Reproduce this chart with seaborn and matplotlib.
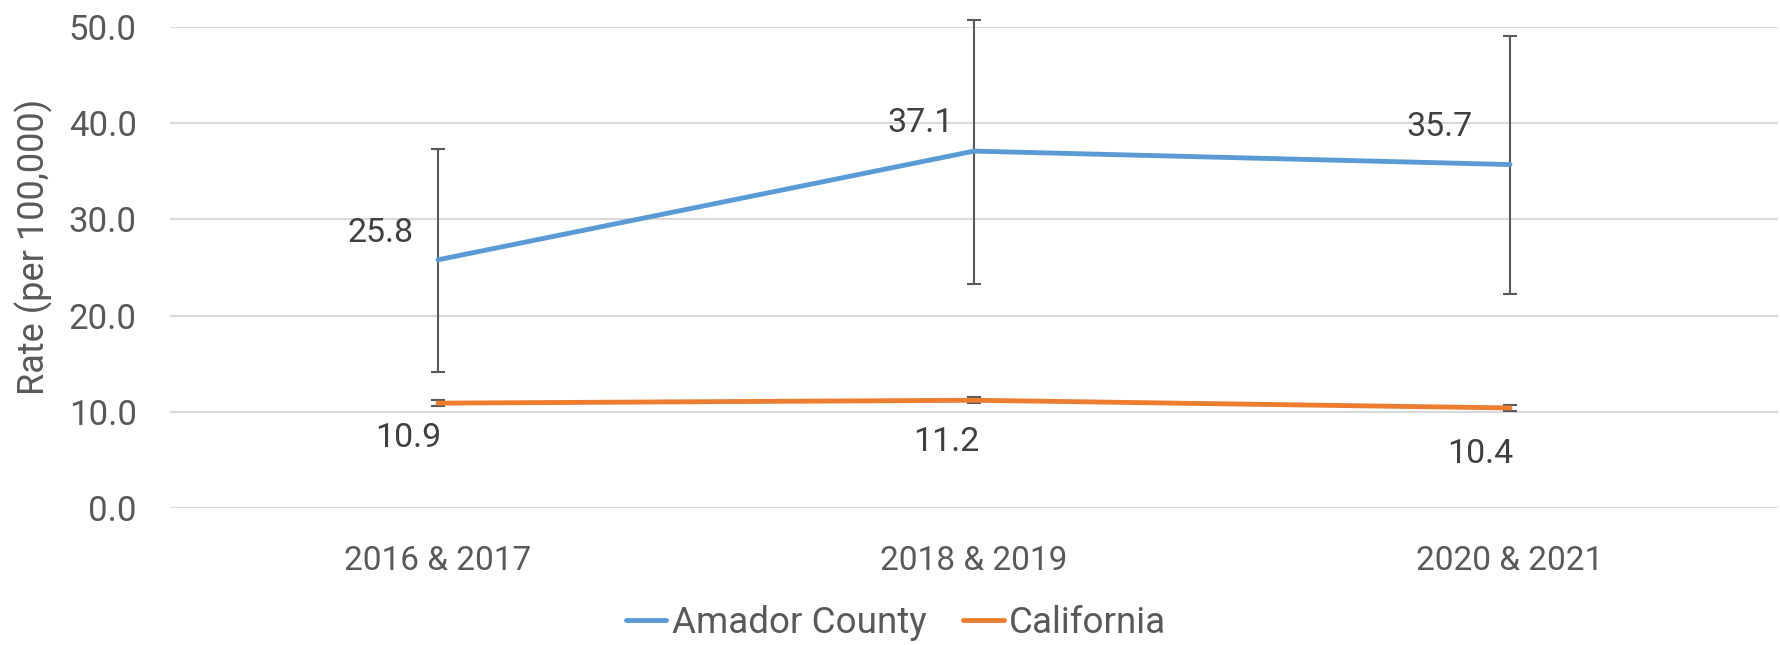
import matplotlib
matplotlib.use("Agg")
import matplotlib.pyplot as plt
import seaborn as sns
import pandas as pd
import numpy as np

periods = ["2016 & 2017", "2018 & 2019", "2020 & 2021"]
amador = [25.8, 37.1, 35.7]
amador_low = [14.1, 23.3, 22.2]
amador_high = [37.3, 50.7, 49.1]
california = [10.9, 11.2, 10.4]
california_low = [10.6, 10.9, 10.1]
california_high = [11.2, 11.5, 10.7]
series_names = ["Amador County", "California"]
y_ticks = [0, 10, 20, 30, 40, 50]

sns.set_theme(style="white")
plt.rcParams['font.family'] = ['Roboto', 'DejaVu Sans']

TXT = "#595959"
BLUE = "#5B9BD5"
ORANGE = "#ED7D31"

df = pd.DataFrame({
    "period": periods * 2,
    "rate": amador + california,
    "series": [series_names[0]] * 3 + [series_names[1]] * 3,
})

fig = plt.figure(figsize=(17.81, 6.45), dpi=100)
ax = fig.add_axes([170 / 1781, 1 - 508 / 645, (1778 - 170) / 1781, (508 - 27) / 645])

for y in y_ticks:
    ax.axhline(y, color="#D9D9D9", lw=1.5, zorder=0)

sns.lineplot(data=df, x="period", y="rate", hue="series", palette=[BLUE, ORANGE],
             lw=3.5, ax=ax, sort=False, legend=True, zorder=3)

xpos = np.arange(len(periods))
for vals, lo, hi in [(amador, amador_low, amador_high),
                     (california, california_low, california_high)]:
    v = np.array(vals)
    yerr = np.vstack([v - np.array(lo), np.array(hi) - v])
    ax.errorbar(xpos, v, yerr=yerr, fmt="none", ecolor=TXT, elinewidth=1.5,
                capsize=5, capthick=1.5, zorder=2, clip_on=False)

# data labels (pixel offsets relative to point: right-edge x, center y)
amador_off = [(-24, 27), (-20, 28), (-37, 38)]
cal_off = [(3, -35), (5, -42), (3, -46)]
for i in range(3):
    ax.annotate(f"{amador[i]:.1f}", (xpos[i], amador[i]), xytext=amador_off[i],
                textcoords="offset pixels", ha="right", va="center",
                fontsize=24.5, color="#404040")
    ax.annotate(f"{california[i]:.1f}", (xpos[i], california[i]), xytext=cal_off[i],
                textcoords="offset pixels", ha="right", va="center",
                fontsize=24.5, color="#404040")

ax.set_xlim(-0.5, 2.5)
ax.set_ylim(0, 50)
ax.set_yticks(y_ticks)
ax.set_yticklabels([f"{t:.1f}" for t in y_ticks])
ax.set_xticks(xpos)
ax.set_xticklabels(periods)
ax.tick_params(axis="both", length=0, labelsize=24, colors=TXT)
ax.tick_params(axis="y", labelsize=25)
ax.tick_params(axis="x", pad=27)
ax.tick_params(axis="y", pad=24)
ax.set_xlabel("")
ax.set_ylabel("Rate (per 100,000)", fontsize=26, color=TXT)
ax.yaxis.set_label_coords(-0.073, 0.543)
for s in ax.spines.values():
    s.set_visible(False)

handles, labels = ax.get_legend_handles_labels()
ax.legend(handles, labels, loc="center", bbox_to_anchor=(896 / 1781, 1 - 623 / 645),
          bbox_transform=fig.transFigure, ncol=2, frameon=False, fontsize=26.5,
          handlelength=1.1, handletextpad=0.15, columnspacing=1.0,
          labelcolor=TXT)

fig.savefig("out.png", dpi=100)
